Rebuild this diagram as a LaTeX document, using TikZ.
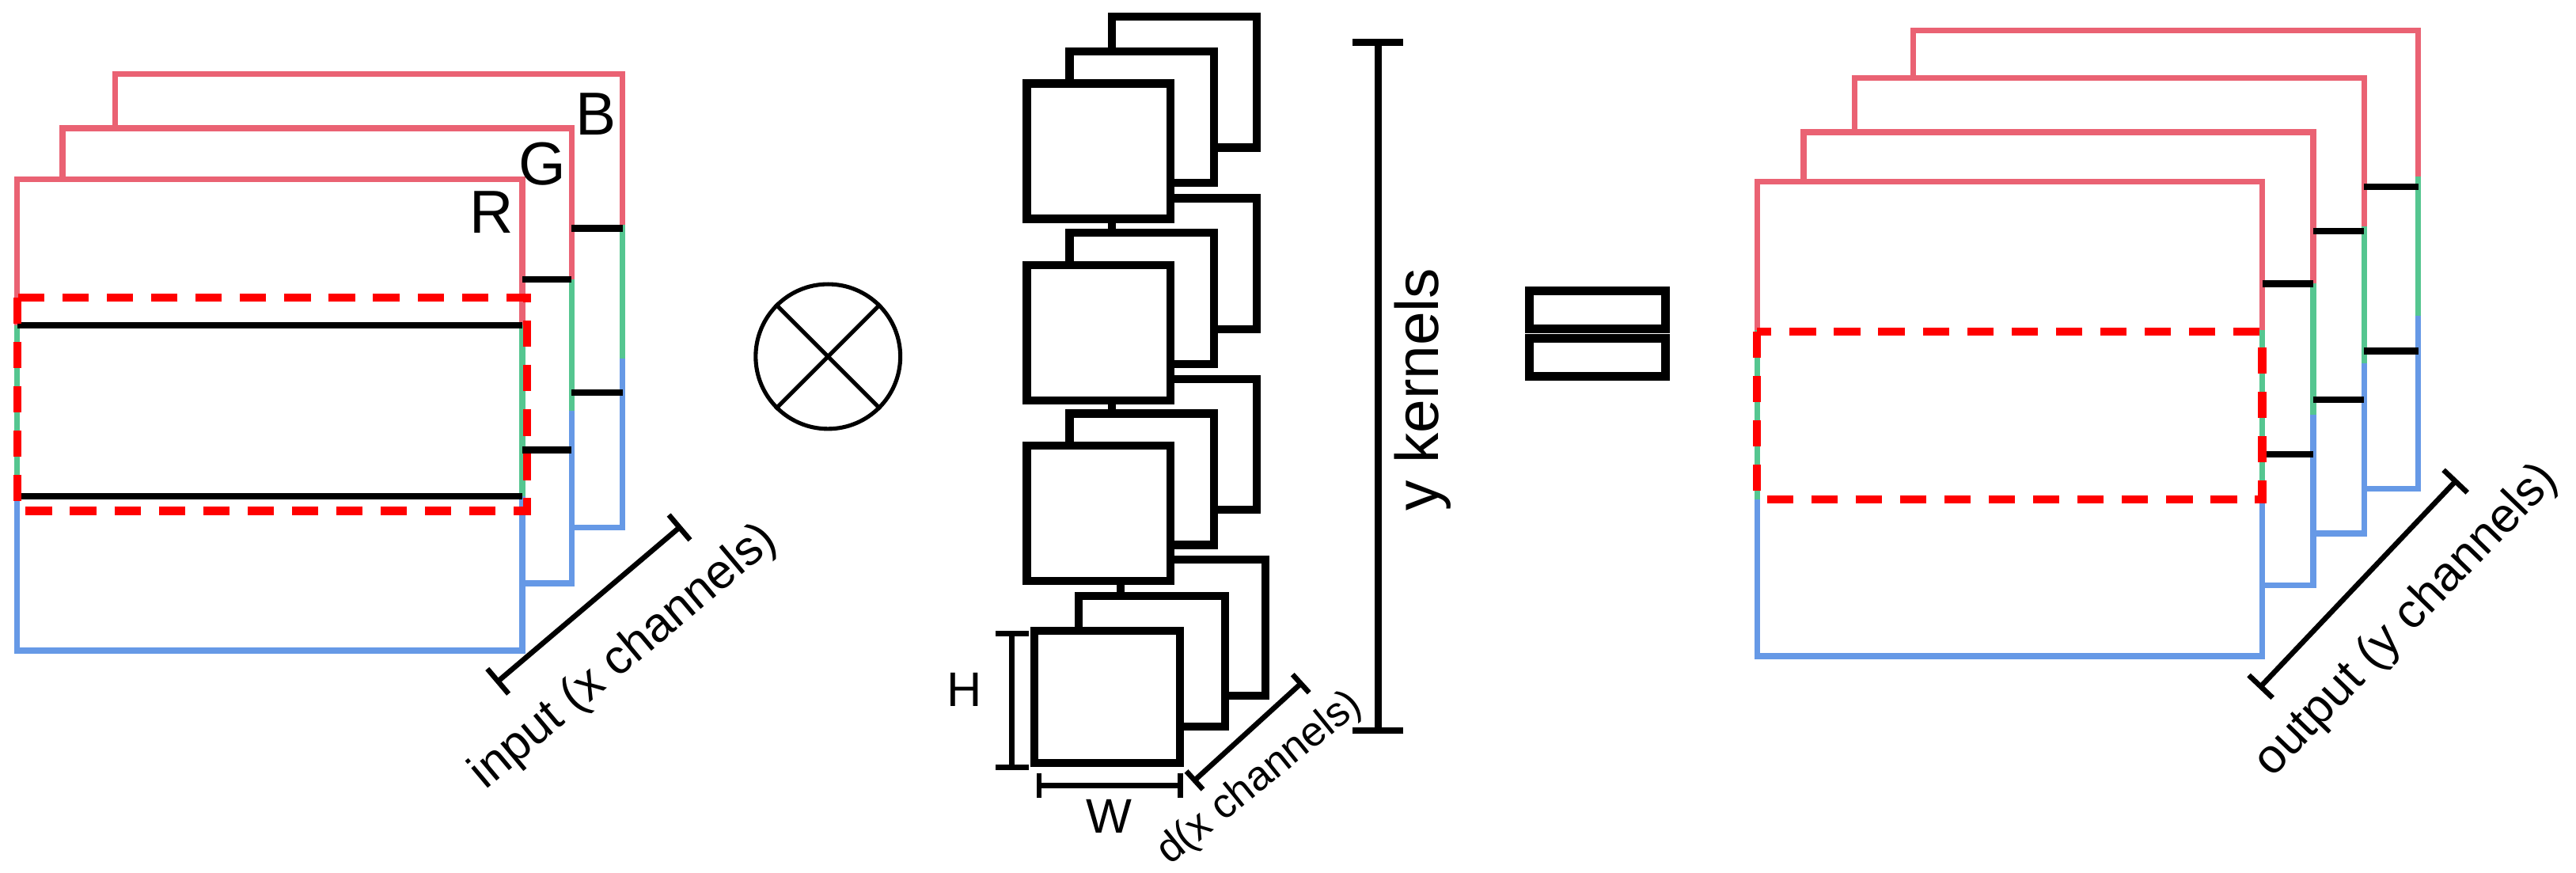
\documentclass[tikz,border=0pt]{standalone}
\usepackage{fontspec}
\setmainfont{Liberation Sans}
\usetikzlibrary{arrows.meta}

\definecolor{chR}{HTML}{EA6273}
\definecolor{chG}{HTML}{55C690}
\definecolor{chB}{HTML}{6699E6}

% one feature map frame: x1 y1 x2 y2, then where red turns green and green turns blue
\newcommand{\chanframe}[6]{%
  \fill[white] (#1,#2) rectangle (#3,#4);
  \draw[chan, chR] (#1,#5) -- (#1,#2) -- (#3,#2) -- (#3,#5);
  \draw[chan, chG] (#1,#5) -- (#1,#6) (#3,#5) -- (#3,#6);
  \draw[chan, chB] (#1,#6) -- (#1,#4) -- (#3,#4) -- (#3,#6);
}
% one kernel slice
\newcommand{\kbox}[4]{\draw[kern] (#1,#2) rectangle (#3,#4);}

\begin{document}
\begin{tikzpicture}[x=0.01cm, y=-0.01cm]

    % Define styles
    \tikzstyle{chan} = [line width=1pt]
    \tikzstyle{kern} = [line width=1.4pt, fill=white]
    \tikzstyle{tick} = [line width=1.2pt, black]
    \tikzstyle{win} = [line width=1.4pt, red, dash pattern=on 0.16cm off 0.11cm]
    \tikzstyle{dim} = [line width=0.9pt, {Bar[width=2mm]}-{Bar[width=2mm]}]
    \tikzstyle{lbl} = [inner sep=0pt, font=\fontsize{8.4}{10}\selectfont]

    \useasboundingbox (0,0) rectangle (1568,531);

    % Input
    \chanframe{70}{45}{379}{321}{137}{218}
    \chanframe{38}{78}{348}{355}{170}{250}
    \chanframe{10.5}{109}{318}{396}{198}{302}
    \draw[tick] (348,139) -- (379,139) (348,239) -- (379,239);
    \draw[tick] (318,170) -- (348,170) (318,274) -- (348,274);
    \draw[tick] (10.5,198) -- (318,198) (10.5,302) -- (318,302);
    \draw[win] (10.5,181) rectangle (321,311);

    \node (labR) [lbl, font=\fontsize{10.5}{12}\selectfont] at (299,129) {R};
    \node (labG) [lbl, font=\fontsize{10.5}{12}\selectfont] at (330,100) {G};
    \node (labB) [lbl, font=\fontsize{10.5}{12}\selectfont] at (363,69.5) {B};

    \coordinate (inA) at (301.9,415.7);
    \coordinate (inB) at (414.8,320);
    \draw[dim] (inA) -- (inB);
    \node (inlabel) [lbl, rotate=40] at (380,400) {input (x channels)};

    % Operator
    \node (otimes) [circle, draw, line width=0.7pt, minimum size=0.88cm, inner sep=0pt] at (504,217) {};
    \draw[line width=0.7pt] (otimes.45) -- (otimes.225) (otimes.135) -- (otimes.315);

    % Kernels
    \kbox{682}{340.6}{770.4}{423.6}
    \kbox{656.5}{362.6}{745.7}{442.3}
    \kbox{629.6}{384}{718.2}{464.3}
    \foreach \dy in {220.5,110.5,0} {
        \kbox{677}{10.2+\dy}{765}{89.8+\dy}
        \kbox{651}{31.2+\dy}{739}{111.2+\dy}
        \kbox{625}{50.8+\dy}{712.4}{133.2+\dy}
    }

    \coordinate (hA) at (616,384);
    \coordinate (hB) at (616,468.7);
    \draw[dim] (hA) -- (hB);
    \node (labH) [lbl] at (587,420) {H};
    \coordinate (wA) at (631,478);
    \coordinate (wB) at (720,478);
    \draw[dim, {Bar[width=1.5mm]}-{Bar[width=1.5mm]}] (wA) -- (wB);
    \node (labW) [lbl] at (675,497) {W};
    \coordinate (dA) at (726,476);
    \coordinate (dB) at (793,415);
    \draw[dim, {Bar[width=1.5mm]}-{Bar[width=1.5mm]}] (dA) -- (dB);
    \node (labd) [lbl, rotate=39, font=\fontsize{7.2}{9}\selectfont] at (767,474) {d(x channels)};

    \coordinate (yA) at (838.8,23.7);
    \coordinate (yB) at (838.8,446.7);
    \draw[dim, line width=1.2pt, {Bar[width=3.1mm]}-{Bar[width=3.1mm]}] (yA) -- (yB);
    \node (labY) [lbl, rotate=90, font=\fontsize{10.5}{12}\selectfont] at (866,237) {y kernels};

    % Equals
    \draw[line width=1.5pt] (931,177) rectangle (1014,200) (931,206) rectangle (1014,229);

    % Output
    \chanframe{1164.7}{18.4}{1472}{297.4}{107.5}{192}
    \chanframe{1129}{47.6}{1439}{324.7}{138}{221}
    \chanframe{1097.8}{80.5}{1408}{356.4}{172.6}{252.5}
    \chanframe{1069.6}{110.6}{1377}{399.4}{201}{304}
    \draw[tick] (1439,113.7) -- (1472,113.7) (1439,213.5) -- (1472,213.5);
    \draw[tick] (1408,140.7) -- (1439,140.7) (1408,243.3) -- (1439,243.3);
    \draw[tick] (1377,172.6) -- (1408,172.6) (1377,276.5) -- (1408,276.5);
    \draw[win] (1069.6,201.8) rectangle (1377,304);

    \coordinate (outA) at (1375,419);
    \coordinate (outB) at (1495.7,291.8);
    \draw[dim] (outA) -- (outB);
    \node (outlabel) [lbl, rotate=46] at (1465,378) {output (y channels)};

\end{tikzpicture}
\end{document}
